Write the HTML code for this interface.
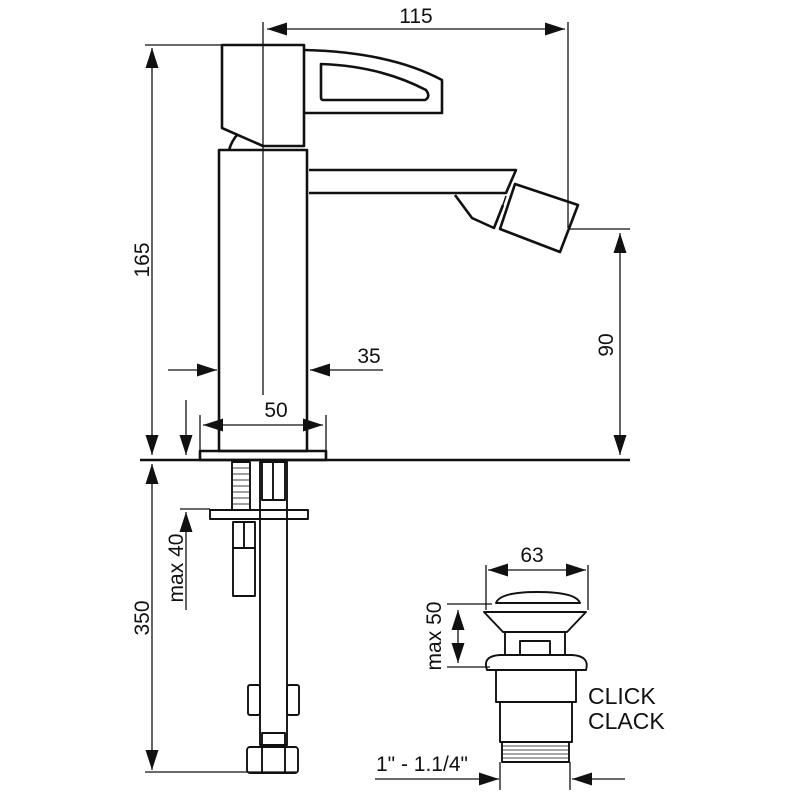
<!DOCTYPE html>
<html><head><style>
html,body{margin:0;padding:0;background:#fff}
svg{display:block}
text{font-family:"Liberation Sans",Arial,sans-serif;fill:#111}
</style></head><body>
<svg width="800" height="800" viewBox="0 0 800 800" xmlns="http://www.w3.org/2000/svg">
<defs>
<marker id="b" viewBox="0 0 20 13" refX="20" refY="6.5" markerWidth="20" markerHeight="13" markerUnits="userSpaceOnUse" orient="auto-start-reverse"><path d="M0,0 L20,6.5 L0,13 z" fill="#111"/></marker>
</defs>
<g stroke="#111" fill="none" stroke-width="1.3">
<line x1="263" y1="22" x2="263" y2="395"/>
<line x1="568" y1="22" x2="568" y2="228"/>
<line x1="145" y1="45" x2="222" y2="45"/>
<line x1="570" y1="229" x2="630" y2="229"/>
<line x1="200" y1="415" x2="200" y2="450"/>
<line x1="326" y1="415" x2="326" y2="450"/>
<line x1="145" y1="772" x2="296" y2="772"/>
<line x1="180" y1="509" x2="210" y2="509"/>
<line x1="486" y1="565" x2="486" y2="610"/>
<line x1="588" y1="565" x2="588" y2="610"/>
<line x1="447" y1="604" x2="492" y2="604"/>
<line x1="447" y1="667" x2="490" y2="667"/>
<line x1="500" y1="762" x2="500" y2="790"/>
<line x1="570" y1="762" x2="570" y2="790"/>
<line x1="267" y1="29" x2="565" y2="29" marker-start="url(#b)" marker-end="url(#b)"/>
<line x1="152" y1="48" x2="152" y2="455" marker-start="url(#b)" marker-end="url(#b)"/>
<line x1="620" y1="233" x2="620" y2="455" marker-start="url(#b)" marker-end="url(#b)"/>
<line x1="168" y1="370" x2="217" y2="370" marker-end="url(#b)"/>
<line x1="383" y1="370" x2="310" y2="370" marker-end="url(#b)"/>
<line x1="203" y1="425" x2="323" y2="425" marker-start="url(#b)" marker-end="url(#b)"/>
<line x1="186" y1="400" x2="186" y2="455" marker-end="url(#b)"/>
<line x1="152" y1="464" x2="152" y2="770" marker-start="url(#b)" marker-end="url(#b)"/>
<line x1="186" y1="610" x2="186" y2="512" marker-end="url(#b)"/>
<line x1="488" y1="570" x2="586" y2="570" marker-start="url(#b)" marker-end="url(#b)"/>
<line x1="458" y1="610" x2="458" y2="663" marker-start="url(#b)" marker-end="url(#b)"/>
<line x1="375" y1="779" x2="499" y2="779" marker-end="url(#b)"/>
<line x1="625" y1="779" x2="572" y2="779" marker-end="url(#b)"/>
</g>
<g stroke="#111" fill="none" stroke-width="2.6" stroke-linejoin="round">
<line x1="140" y1="460" x2="630" y2="460"/>
<rect x="200" y="451" width="126" height="9"/>
<rect x="219" y="150" width="88" height="301"/>
<path d="M222,45 H304 V146 H263 L222,128 Z"/>
<path d="M304,50 Q390,52 442,80 V113 H304"/>
<path d="M321,64 Q380,66 426,90 Q431,97 425,100 H323 Q321,100 321,97 Z"/>
<path d="M229,150 Q232,140 238,134"/>
<line x1="263" y1="146" x2="300" y2="146" stroke-width="1.5"/>
<path d="M309,170 H516 L506,193 H309"/>
<path d="M455,195 L472,218 L494,228 L503,205"/>
<path d="M515,184 L578,205 L560,252 L500,229 Z"/>
<line x1="506" y1="196" x2="497" y2="222" stroke-width="1.5"/>
</g>
<g stroke="#111" fill="none" stroke-width="1.9" stroke-linejoin="round">
<rect x="232" y="462" width="18" height="48"/>
<g stroke-width="0.8"><line x1="233" y1="468" x2="249" y2="468"/><line x1="233" y1="474" x2="249" y2="474"/><line x1="233" y1="480" x2="249" y2="480"/><line x1="233" y1="486" x2="249" y2="486"/><line x1="233" y1="492" x2="249" y2="492"/><line x1="233" y1="498" x2="249" y2="498"/><line x1="233" y1="504" x2="249" y2="504"/></g>
<rect x="210" y="510" width="98" height="9"/>
<rect x="233" y="522" width="22" height="26"/>
<line x1="244" y1="522" x2="244" y2="548"/>
<rect x="233" y="548" width="22" height="48"/>
<rect x="260" y="462" width="27" height="283"/>
<rect x="262" y="462" width="23" height="38"/>
<line x1="273" y1="462" x2="273" y2="500"/>
<rect x="248" y="685" width="12" height="30" rx="2"/>
<rect x="287" y="685" width="12" height="30" rx="2"/>
<rect x="262" y="733" width="23" height="14"/>
<rect x="247" y="747" width="51" height="26" rx="3"/>
<line x1="262" y1="747" x2="262" y2="773"/><line x1="285" y1="747" x2="285" y2="773"/>
<path d="M496,603 Q500,592 537,592 Q576,592 580,603 Z"/>
<path d="M484,612 H586 L567,632 H503 Z"/>
<path d="M505,632 V655 M565,632 V655"/>
<rect x="520" y="641" width="30" height="14"/>
<path d="M487,670 Q482,656 500,655 H572 Q590,656 586,670 Z"/>
<path d="M496,670 V702 H576 V670"/>
<path d="M500,702 V742 H572 V702"/>
<rect x="502" y="742" width="67" height="20"/>
<g stroke-width="0.7"><line x1="503" y1="746" x2="568" y2="746"/><line x1="503" y1="750" x2="568" y2="750"/><line x1="503" y1="754" x2="568" y2="754"/><line x1="503" y1="758" x2="568" y2="758"/></g>
</g>
<text x="416" y="23" font-size="21" text-anchor="middle">115</text>
<text x="369" y="363" font-size="21" text-anchor="middle">35</text>
<text x="276" y="417" font-size="21" text-anchor="middle">50</text>
<text x="532" y="562" font-size="21" text-anchor="middle">63</text>
<text transform="translate(149,260) rotate(-90)" font-size="21" text-anchor="middle">165</text>
<text transform="translate(613,345) rotate(-90)" font-size="21" text-anchor="middle">90</text>
<text transform="translate(149,618) rotate(-90)" font-size="21" text-anchor="middle">350</text>
<text transform="translate(183,568) rotate(-90)" font-size="21" text-anchor="middle">max 40</text>
<text transform="translate(441,636) rotate(-90)" font-size="21" text-anchor="middle">max 50</text>
<text x="588" y="704" font-size="23">CLICK</text>
<text x="588" y="729" font-size="23">CLACK</text>
<text x="376" y="771" font-size="21">1" - 1.1/4"</text>
</svg>
</body></html>
